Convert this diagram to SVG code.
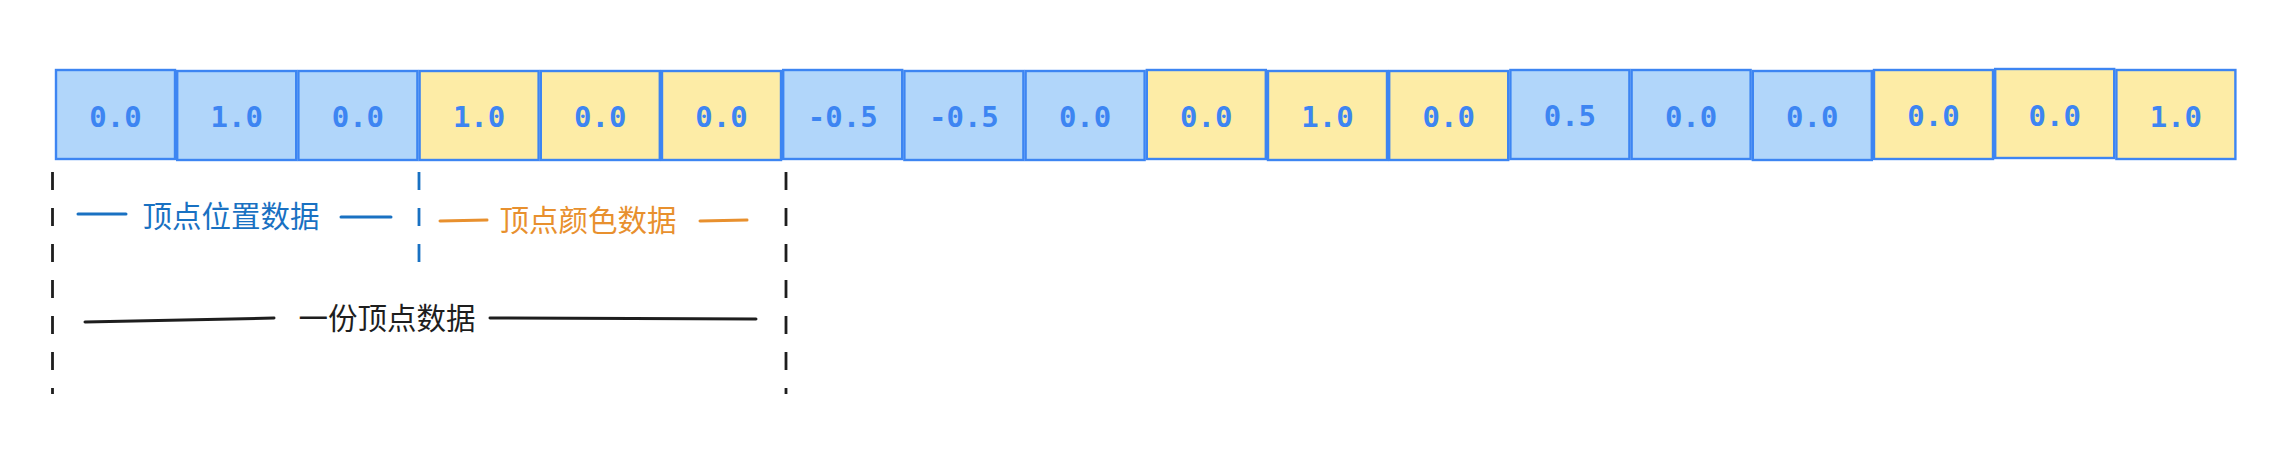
<svg xmlns="http://www.w3.org/2000/svg" width="2288" height="466" viewBox="0 0 2288 466">
<style>
.cell rect{stroke:#3d85f2;stroke-width:2.4}
.b rect{fill:#b1d6fa}
.y rect{fill:#fdeca6}
.cell text{font-family:"DejaVu Sans Mono","Liberation Mono",monospace;font-size:29px;font-weight:bold;fill:#3d85f2;text-anchor:middle}
.lbl{font-family:"Noto Sans CJK SC","Noto Sans",sans-serif;font-size:29.5px;text-anchor:middle}
.dash{fill:none;stroke-width:2.8;stroke-dasharray:18 18}
.ln{stroke-width:3;stroke-linecap:round}
</style>
<rect width="2288" height="466" fill="#ffffff"/>
<g id="cells">
<g id="c0" class="cell b"><rect x="56" y="70" width="119" height="89"/><text x="115.5" y="127">0.0</text></g>
<g id="c1" class="cell b"><rect x="177.2" y="71" width="119" height="89"/><text x="236.7" y="127">1.0</text></g>
<g id="c2" class="cell b"><rect x="298.4" y="71" width="119" height="89"/><text x="357.9" y="127">0.0</text></g>
<g id="c3" class="cell y"><rect x="419.6" y="71" width="119" height="89"/><text x="479.1" y="127">1.0</text></g>
<g id="c4" class="cell y"><rect x="540.8" y="71" width="119" height="89"/><text x="600.3" y="127">0.0</text></g>
<g id="c5" class="cell y"><rect x="662" y="71" width="119" height="89"/><text x="721.5" y="127">0.0</text></g>
<g id="c6" class="cell b"><rect x="783.2" y="70" width="119" height="89"/><text x="842.7" y="127">-0.5</text></g>
<g id="c7" class="cell b"><rect x="904.4" y="71" width="119" height="89"/><text x="963.9" y="127">-0.5</text></g>
<g id="c8" class="cell b"><rect x="1025.6" y="71" width="119" height="89"/><text x="1085.1" y="127">0.0</text></g>
<g id="c9" class="cell y"><rect x="1146.8" y="70" width="119" height="89"/><text x="1206.3" y="127">0.0</text></g>
<g id="c10" class="cell y"><rect x="1268" y="71" width="119" height="89"/><text x="1327.5" y="127">1.0</text></g>
<g id="c11" class="cell y"><rect x="1389.2" y="71" width="119" height="89"/><text x="1448.7" y="127">0.0</text></g>
<g id="c12" class="cell b"><rect x="1510.4" y="70" width="119" height="89"/><text x="1569.9" y="126">0.5</text></g>
<g id="c13" class="cell b"><rect x="1631.6" y="70" width="119" height="89"/><text x="1691.1" y="127">0.0</text></g>
<g id="c14" class="cell b"><rect x="1752.8" y="71" width="119" height="89"/><text x="1812.3" y="127">0.0</text></g>
<g id="c15" class="cell y"><rect x="1874" y="70" width="119" height="89"/><text x="1933.5" y="126">0.0</text></g>
<g id="c16" class="cell y"><rect x="1995.2" y="69" width="119" height="89"/><text x="2054.7" y="126">0.0</text></g>
<g id="c17" class="cell y"><rect x="2116.4" y="70" width="119" height="89"/><text x="2175.9" y="127">1.0</text></g>
</g>
<g id="connectors">
<line class="dash" x1="52.5" y1="172" x2="52.5" y2="394" stroke="#1e1e1e"/>
<line class="dash" x1="786" y1="172" x2="786" y2="394" stroke="#1e1e1e"/>
<line class="dash" x1="419" y1="172" x2="419" y2="272" stroke="#1971c2"/>
<line class="ln" x1="78" y1="214" x2="126" y2="214" stroke="#1971c2"/>
<line class="ln" x1="341" y1="217" x2="391" y2="217" stroke="#1971c2"/>
<line class="ln" x1="440" y1="221" x2="487" y2="220" stroke="#e8902e"/>
<line class="ln" x1="700" y1="221" x2="747" y2="220" stroke="#e8902e"/>
<line class="ln" x1="85" y1="322" x2="274" y2="318" stroke="#1e1e1e"/>
<line class="ln" x1="490" y1="318" x2="756" y2="319" stroke="#1e1e1e"/>
</g>
<g id="label-pos"><text class="lbl" x="231" y="227" fill="#1971c2">顶点位置数据</text></g>
<g id="label-color"><text class="lbl" x="588" y="231" fill="#e8902e">顶点颜色数据</text></g>
<g id="label-vertex"><text class="lbl" x="387" y="329" fill="#1e1e1e">一份顶点数据</text></g>
</svg>
